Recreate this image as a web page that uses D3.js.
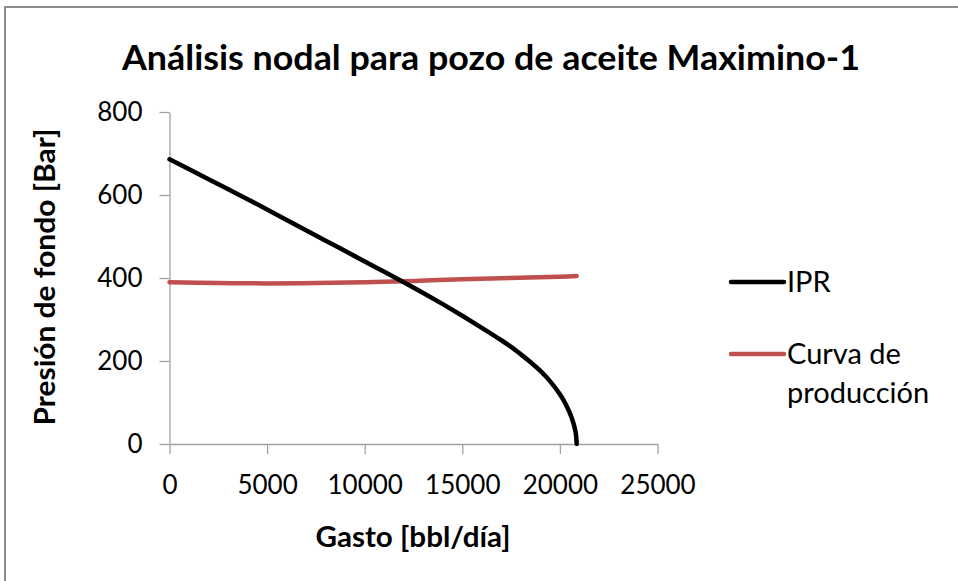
<!DOCTYPE html>
<html>
<head>
<meta charset="utf-8">
<script src="https://cdn.jsdelivr.net/npm/d3@7"></script>
<style>
  body { margin: 0; background: #fff; }
  svg { display: block; }
</style>
</head>
<body>
<div id="chart"></div>
<script>
// values
var ipr_q = [0, 2000, 4000, 6000, 8000, 10000, 11000, 12000, 13000, 14000, 15000, 16000, 17000, 17500, 18000, 18500, 19000, 19500, 20000, 20300, 20600, 20800, 20860];
var ipr_p = [686, 638, 590, 540, 490, 440, 415, 390, 364, 337, 309, 280, 250, 234, 216, 197, 176, 151, 120, 96, 64, 30, 0];

var prod_q = [0, 2500, 5000, 7500, 10000, 12500, 15000, 17500, 20000, 20860];
var prod_p = [390, 388, 387, 388, 390, 393, 397, 400, 403, 405];

var xTicks = [0, 5000, 10000, 15000, 20000, 25000];
var yTicks = [0, 200, 400, 600, 800];

var seriesNames = ['IPR', 'Curva de producción'];
var seriesColors = ['#000000', '#c0504d'];

var titleText = 'Análisis nodal para pozo de aceite Maximino-1';
var xLabel = 'Gasto [bbl/día]';
var yLabel = 'Presión de fondo [Bar]';

var fontFamily = 'Lato, "Open Sans", sans-serif';
var axisColor = '#a0a0a0';

var width = 958,
  height = 581;

// plot area in page pixels
var plot = { left: 169.5, right: 657.5, top: 112, bottom: 444 };

var svg = d3
  .select('#chart')
  .append('svg')
  .attr('width', width)
  .attr('height', height);

// chart frame, only the top and left edges are in the picture
svg
  .append('path')
  .attr('d', 'M5,' + (height + 5) + 'V7H' + (width + 5))
  .attr('fill', 'none')
  .attr('stroke', '#8c8c8c')
  .attr('stroke-width', 2);

var x = d3.scaleLinear().domain([0, 25000]).range([plot.left, plot.right]);
var y = d3.scaleLinear().domain([0, 800]).range([plot.bottom, plot.top]);

// axes
var yAxis = svg
  .append('g')
  .attr('transform', 'translate(' + plot.left + ',0)')
  .call(d3.axisLeft(y).tickValues(yTicks).tickSize(10).tickSizeOuter(0).tickPadding(17));

var xAxis = svg
  .append('g')
  .attr('transform', 'translate(0,' + plot.bottom + ')')
  .call(d3.axisBottom(x).tickValues(xTicks).tickSize(10).tickSizeOuter(0).tickPadding(22).tickFormat(d3.format('d')));

[xAxis, yAxis].forEach(function (ax) {
  ax.select('.domain').attr('stroke', axisColor).attr('stroke-width', 1.3);
  ax.selectAll('.tick line').attr('stroke', axisColor).attr('stroke-width', 1.3);
  ax.selectAll('.tick text')
    .attr('fill', '#000')
    .style('font-family', fontFamily)
    .style('font-size', '26px');
});

// lines
var line = d3
  .line()
  .x(function (d) { return x(d[0]); })
  .y(function (d) { return y(d[1]); })
  .curve(d3.curveCatmullRom.alpha(0.5));

var series = [
  d3.zip(prod_q, prod_p),
  d3.zip(ipr_q, ipr_p)
];
var seriesColorList = [seriesColors[1], seriesColors[0]];

svg
  .append('g')
  .selectAll('path')
  .data(series)
  .enter()
  .append('path')
  .attr('d', line)
  .attr('fill', 'none')
  .attr('stroke', function (d, i) { return seriesColorList[i]; })
  .attr('stroke-width', 4.5)
  .attr('stroke-linecap', 'round');

// title and axis titles
svg
  .append('text')
  .attr('x', 491)
  .attr('y', 70)
  .attr('text-anchor', 'middle')
  .style('font-family', fontFamily)
  .style('font-weight', 'bold')
  .style('font-size', '35px')
  .attr('textLength', 738)
  .attr('lengthAdjust', 'spacingAndGlyphs')
  .text(titleText);

svg
  .append('text')
  .attr('x', 413)
  .attr('y', 547)
  .attr('text-anchor', 'middle')
  .style('font-family', fontFamily)
  .style('font-weight', 'bold')
  .style('font-size', '29px')
  .attr('textLength', 195)
  .attr('lengthAdjust', 'spacingAndGlyphs')
  .text(xLabel);

svg
  .append('text')
  .attr('transform', 'translate(55,277)rotate(-90)')
  .attr('text-anchor', 'middle')
  .style('font-family', fontFamily)
  .style('font-weight', 'bold')
  .style('font-size', '29px')
  .attr('textLength', 297)
  .attr('lengthAdjust', 'spacingAndGlyphs')
  .text(yLabel);

// legend
var legendY = [282, 354];
var legend = svg.append('g');

legend
  .selectAll('line')
  .data(seriesNames)
  .enter()
  .append('line')
  .attr('x1', 731)
  .attr('x2', 784)
  .attr('y1', function (d, i) { return legendY[i]; })
  .attr('y2', function (d, i) { return legendY[i]; })
  .attr('stroke', function (d, i) { return seriesColors[i]; })
  .attr('stroke-width', 4.5)
  .attr('stroke-linecap', 'round');

legend
  .selectAll('text')
  .data(seriesNames)
  .enter()
  .append('text')
  .attr('x', 787)
  .attr('y', function (d, i) { return legendY[i] + 10; })
  .style('font-family', fontFamily)
  .style('font-size', '29px')
  .each(function (d) {
    var words = d === 'Curva de producción' ? ['Curva de', 'producción'] : [d];
    var t = d3.select(this);
    words.forEach(function (w, k) {
      t.append('tspan')
        .attr('x', 787)
        .attr('dy', k === 0 ? 0 : 39)
        .text(w);
    });
  });
</script>
</body>
</html>
